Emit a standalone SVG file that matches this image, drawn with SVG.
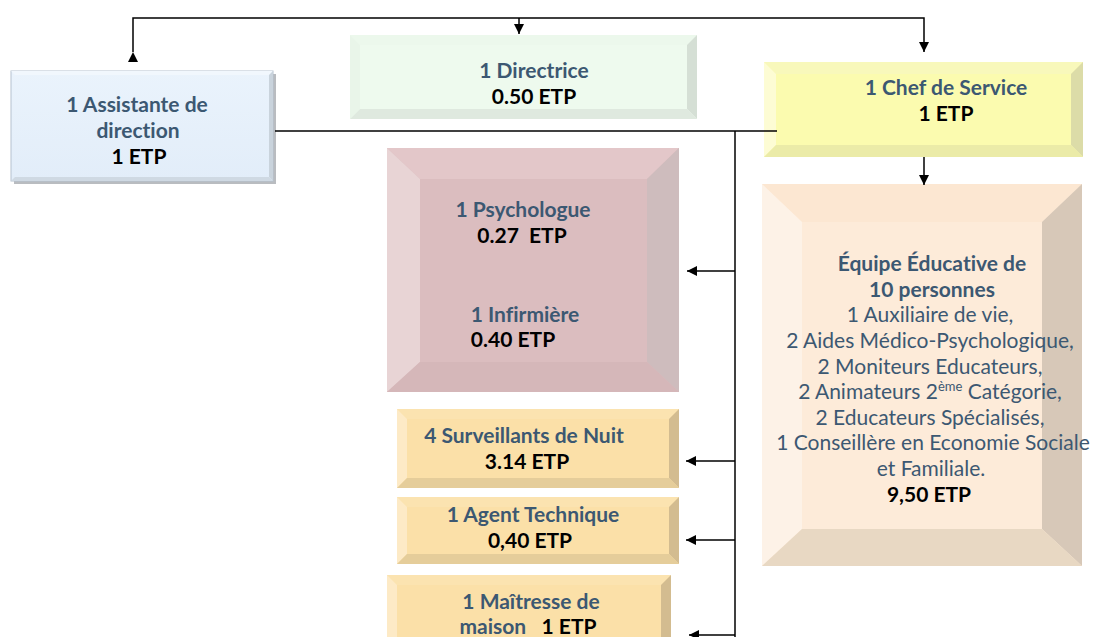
<svg xmlns="http://www.w3.org/2000/svg" width="1094" height="637" viewBox="0 0 1094 637">
<defs>
<marker id="arr" markerUnits="userSpaceOnUse" markerWidth="10" markerHeight="10" viewBox="0 0 10 10" refX="10" refY="5" orient="auto">
<path d="M0,0 L10,5 L0,10 z" fill="#000"/>
</marker>
<linearGradient id="gBlue" x1="0" y1="0" x2="0" y2="1">
<stop offset="0" stop-color="#eaf3fc"/>
<stop offset="1" stop-color="#e2edf9"/>
</linearGradient>
</defs>
<style>
.t{font-family:"Lato","Liberation Sans",sans-serif;font-size:21px;text-anchor:middle;font-variant-ligatures:none}
.b{font-weight:bold}
.n{fill:#3c5872}
.k{fill:#000}
.conn{fill:none;stroke:#000;stroke-width:1.5}
</style>
<rect width="1094" height="637" fill="#fff"/>

<g id="assistante">
<rect x="14" y="74" width="262" height="110" fill="#b9bcc0"/>
<rect x="11" y="71" width="262" height="110" fill="url(#gBlue)" stroke="#b5c2cf" stroke-width="1"/>
<polygon points="11,71 273,71 269,75 15,75" fill="#f1f7fd"/>
<polygon points="273,71 273,181 269,177 269,75" fill="#c9d3dc"/>
<polygon points="11,181 273,181 269,177 15,177" fill="#cfd9e3"/>
<text class="t b n" x="137" y="112">1 Assistante de</text>
<text class="t b n" x="138" y="138">direction</text>
<text class="t b k" x="139" y="164">1 ETP</text>
</g>

<g id="directrice">
<rect x="350" y="35" width="347" height="84" fill="#eefaee"/>
<polygon points="350,35 697,35 687,45 360,45" fill="#ecf8ec"/>
<polygon points="350,35 360,45 360,109 350,119" fill="#e9f5e9"/>
<polygon points="697,35 697,119 687,109 687,45" fill="#d5dfd5"/>
<polygon points="350,119 697,119 687,109 360,109" fill="#dfe9df"/>
<text class="t b n" x="534" y="78">1 Directrice</text>
<text class="t b k" x="534" y="104">0.50 ETP</text>
</g>

<g id="chef">
<rect x="764" y="62" width="319" height="95" fill="#fbfbaf"/>
<polygon points="764,62 1083,62 1071,74 776,74" fill="#f8f8bb"/>
<polygon points="764,62 776,74 776,145 764,157" fill="#fdfcd4"/>
<polygon points="1083,62 1083,157 1071,145 1071,74" fill="#dcdca8"/>
<polygon points="764,157 1083,157 1071,145 776,145" fill="#ebeba8"/>
<text class="t b n" x="946" y="95">1 Chef de Service</text>
<text class="t b k" x="946" y="121">1 ETP</text>
</g>

<g id="psy">
<rect x="387" y="148" width="292" height="244" fill="#dbbdbf"/>
<polygon points="387,148 679,148 647,179 420,179" fill="#e3c7c9"/>
<polygon points="387,148 420,179 420,362 387,392" fill="#e8d4d5"/>
<polygon points="679,148 679,392 647,362 647,179" fill="#cebcbd"/>
<polygon points="387,392 679,392 647,362 420,362" fill="#d5b7b9"/>
<text class="t b n" x="523" y="217">1 Psychologue</text>
<text class="t b k" x="522" y="243" xml:space="preserve">0.27  ETP</text>
<text class="t b n" x="525" y="322">1 Infirmière</text>
<text class="t b k" x="513" y="347">0.40 ETP</text>
</g>

<g id="equipe">
<rect x="762" y="184" width="320" height="382" fill="#fdebd9"/>
<polygon points="762,184 1082,184 1042,222 802,222" fill="#fce7d2"/>
<polygon points="762,184 802,222 802,529 762,566" fill="#fdf2e7"/>
<polygon points="1082,184 1082,566 1042,529 1042,222" fill="#d7c8b8"/>
<polygon points="762,566 1082,566 1042,529 802,529" fill="#e8d8c3"/>
<text class="t b n" x="932" y="271">Équipe Éducative de</text>
<text class="t b n" x="932" y="297">10 personnes</text>
<text class="t n" x="930" y="322">1 Auxiliaire de vie,</text>
<text class="t n" x="930" y="348">2 Aides Médico-Psychologique,</text>
<text class="t n" x="930" y="374">2 Moniteurs Educateurs,</text>
<text class="t n" x="930" y="399">2 Animateurs 2<tspan font-size="13" dy="-8">ème</tspan><tspan dy="8"> Catégorie,</tspan></text>
<text class="t n" x="930" y="425">2 Educateurs Spécialisés,</text>
<text class="t n" x="933" y="450">1 Conseillère en Economie Sociale</text>
<text class="t n" x="931" y="476">et Familiale.</text>
<text class="t b k" x="929" y="502">9,50 ETP</text>
</g>

<g id="surveillants">
<rect x="397" y="409" width="282" height="79" fill="#fbe0a8"/>
<polygon points="397,409 679,409 669,419 407,419" fill="#fbe3b0"/>
<polygon points="397,409 407,419 407,478 397,488" fill="#fdeac6"/>
<polygon points="679,409 679,488 669,478 669,419" fill="#d3bc90"/>
<polygon points="397,488 679,488 669,478 407,478" fill="#e5cd9a"/>
<text class="t b n" x="524" y="443">4 Surveillants de Nuit</text>
<text class="t b k" x="527" y="469">3.14 ETP</text>
</g>

<g id="agent">
<rect x="397" y="497" width="282" height="67" fill="#fbe0a8"/>
<polygon points="397,497 679,497 669,507 407,507" fill="#fbe3b0"/>
<polygon points="397,497 407,507 407,554 397,564" fill="#fdeac6"/>
<polygon points="679,497 679,564 669,554 669,507" fill="#d3bc90"/>
<polygon points="397,564 679,564 669,554 407,554" fill="#e5cd9a"/>
<text class="t b n" x="533" y="522">1 Agent Technique</text>
<text class="t b k" x="530" y="548">0,40 ETP</text>
</g>

<g id="maitresse">
<rect x="387" y="575" width="284" height="80" fill="#fbe0a8"/>
<polygon points="387,575 671,575 661,585 397,585" fill="#fbe3b0"/>
<polygon points="387,575 397,585 397,655 387,655" fill="#fdeac6"/>
<polygon points="671,575 671,655 661,655 661,585" fill="#d3bc90"/>
<text class="t b n" x="531" y="609">1 Maîtresse de</text>
<text class="t b" x="528" y="634" xml:space="preserve"><tspan class="n">maison   </tspan><tspan class="k">1 ETP</tspan></text>
</g>

<g id="connectors">
<path class="conn" d="M133,52 V18 H924 V52" marker-start="url(#arr)" marker-end="url(#arr)"/>
<path class="conn" d="M519,18 V34" marker-end="url(#arr)"/>
<path class="conn" d="M924,157 V185" marker-end="url(#arr)"/>
<path class="conn" d="M275,131 H777"/>
<path class="conn" d="M735,131 V637"/>
<path class="conn" d="M735,271 H687" marker-end="url(#arr)"/>
<path class="conn" d="M735,461 H686" marker-end="url(#arr)"/>
<path class="conn" d="M735,540 H686" marker-end="url(#arr)"/>
<path class="conn" d="M735,635 H689" marker-end="url(#arr)"/>
</g>
</svg>
